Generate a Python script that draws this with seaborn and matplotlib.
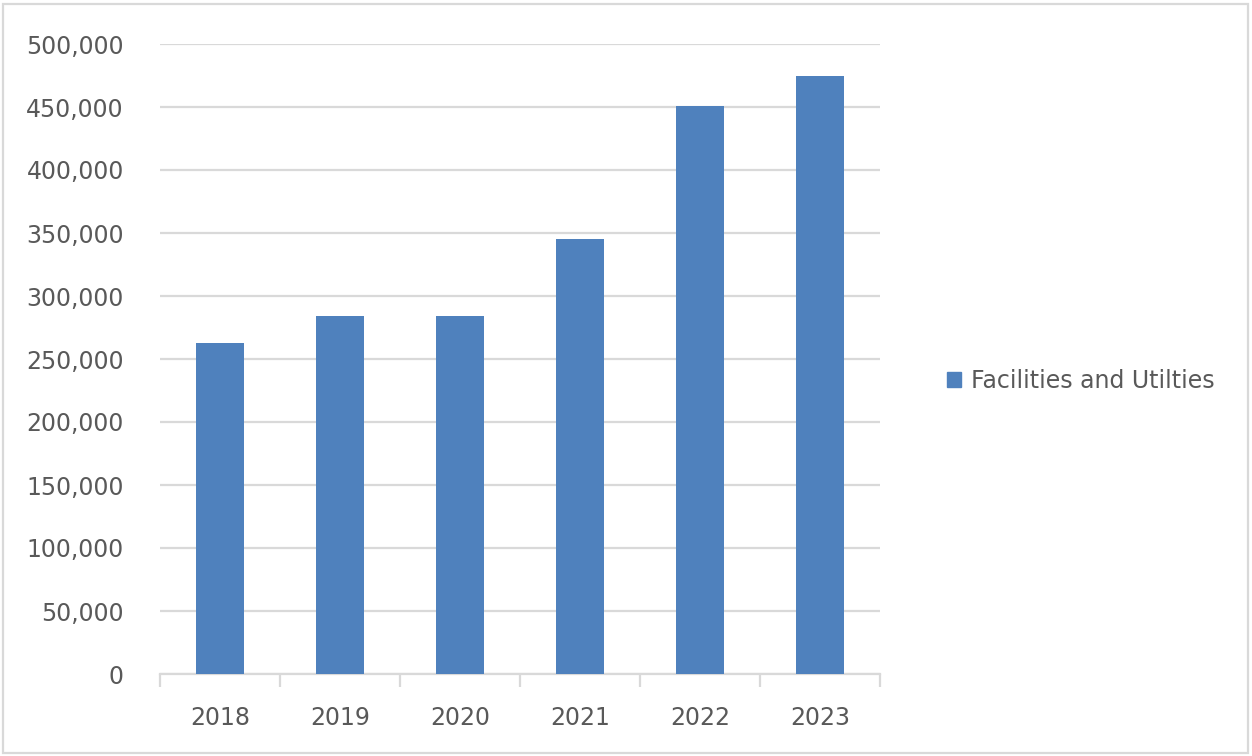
import matplotlib
matplotlib.use("Agg")
import matplotlib.pyplot as plt
import matplotlib.patches as mpatches
from matplotlib.ticker import FuncFormatter, MultipleLocator
import seaborn as sns
import pandas as pd

years = ["2018", "2019", "2020", "2021", "2022", "2023"]
spending = [263000, 284000, 284000, 345000, 451000, 475000]
series_name = "Facilities and Utilties"

df = pd.DataFrame({"Year": years, "Amount": spending})

sns.set_theme(style="white")
plt.rcParams["font.family"] = ["DejaVu Sans"]

text_color = "#595959"
grid_color = "#d9d9d9"
bar_color = "#4f81bd"
font_size = 17

fig = plt.figure(figsize=(12.52, 7.56), dpi=100)
ax = fig.add_axes([160 / 1252, 1 - 674 / 756, 720 / 1252, 630 / 756])

sns.barplot(data=df, x="Year", y="Amount", color=bar_color, width=0.4,
            saturation=1, linewidth=0, ax=ax, zorder=3)

ax.set_ylim(0, 500000)
ax.set_xlim(-0.5, len(years) - 0.5)
ax.yaxis.set_major_locator(MultipleLocator(50000))
ax.yaxis.set_major_formatter(FuncFormatter(lambda v, p: f"{int(v):,}"))
ax.grid(axis="y", color=grid_color, linewidth=1.6, zorder=0)
ax.set_axisbelow(True)
ax.set_xlabel("")
ax.set_ylabel("")

for side in ["top", "right", "left"]:
    ax.spines[side].set_visible(False)
ax.spines["bottom"].set_color(grid_color)
ax.spines["bottom"].set_linewidth(1.6)

# category boundary ticks on the x axis
ax.set_xticks(range(len(years)))
ax.set_xticklabels(years)
ax.set_xticks([i - 0.5 for i in range(len(years) + 1)], minor=True)
ax.tick_params(axis="x", which="major", bottom=False, length=0, pad=23,
               labelsize=font_size, labelcolor=text_color)
ax.tick_params(axis="x", which="minor", bottom=True, length=9, width=1.6,
               color=grid_color, direction="out")
ax.tick_params(axis="y", left=False, length=0, pad=26, labelsize=font_size,
               labelcolor=text_color)

handle = mpatches.Patch(color=bar_color, label=series_name)
fig.legend(handles=[handle], loc="center left",
           bbox_to_anchor=(926 / 1252, 1 - 381 / 756), frameon=False,
           fontsize=font_size, labelcolor=text_color, handlelength=0.6,
           handleheight=0.6, handletextpad=0.4)

# outer chart frame
fig.patches.append(mpatches.Rectangle((3 / 1252, 3 / 756), 1245 / 1252, 749 / 756,
                                      transform=fig.transFigure, fill=False,
                                      edgecolor=grid_color, linewidth=1.6))

fig.savefig("out.png", dpi=100, facecolor="white")
